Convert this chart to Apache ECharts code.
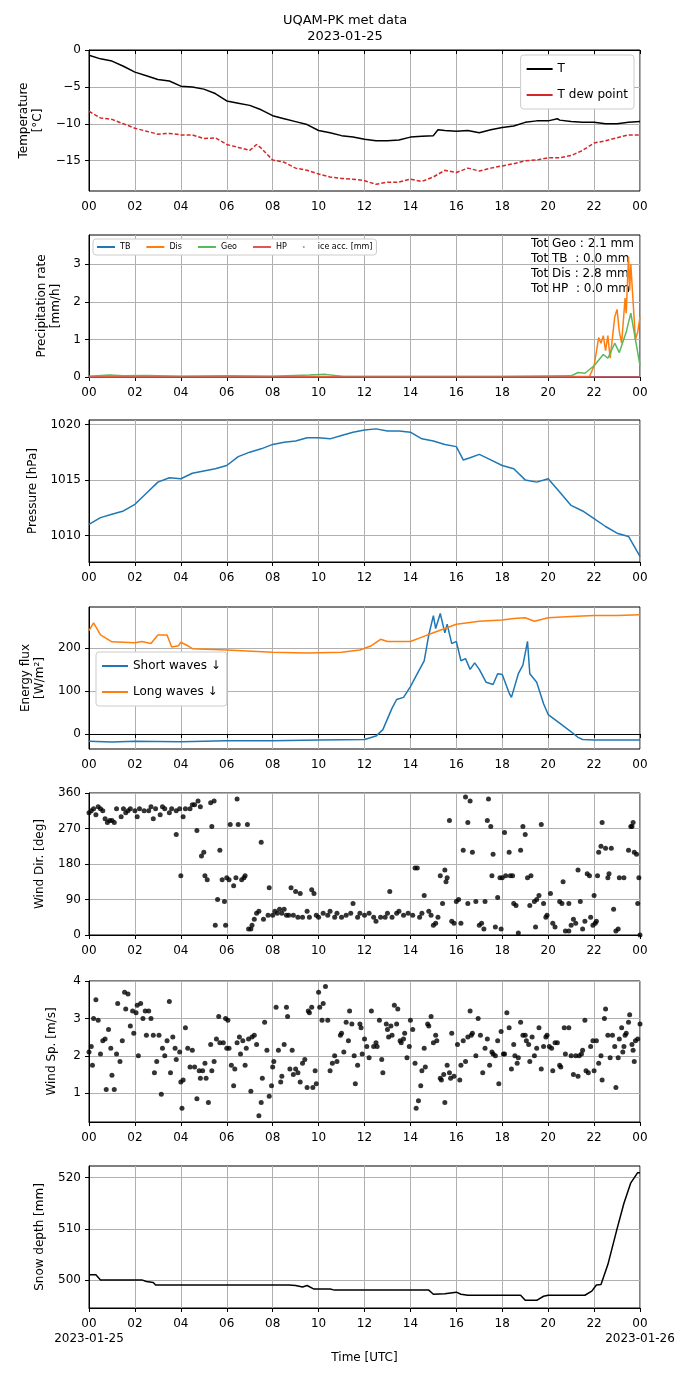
<!DOCTYPE html>
<html>
<head>
<meta charset="utf-8">
<title>UQAM-PK met data</title>
<script src="https://cdn.jsdelivr.net/npm/echarts@6/dist/echarts.min.js"></script>
<style>body{margin:0;background:#fff}</style>
</head>
<body>
<div id="main" style="width:690px;height:1377px;"></div>
<script>
// hours since 2023-01-25 00:00 UTC
var xTicks = [0, 2, 4, 6, 8, 10, 12, 14, 16, 18, 20, 22, 24];

var tAir = [[0,-0.7],[0.5,-1.2],[1,-1.5],[1.5,-2.2],[2,-3.0],[2.5,-3.5],[3,-4.0],[3.5,-4.2],[4,-4.9],[4.5,-5.0],[5,-5.3],[5.5,-5.9],[6,-6.9],[6.5,-7.2],[7,-7.5],[7.5,-8.1],[8,-8.9],[8.5,-9.3],[9,-9.7],[9.5,-10.1],[10,-10.9],[10.5,-11.2],[11,-11.6],[11.5,-11.8],[12,-12.1],[12.5,-12.3],[13,-12.3],[13.5,-12.2],[14,-11.8],[14.5,-11.7],[15,-11.6],[15.2,-10.8],[15.5,-10.9],[16,-11.0],[16.5,-10.9],[17,-11.2],[17.5,-10.8],[18,-10.5],[18.5,-10.3],[19,-9.8],[19.5,-9.6],[20,-9.6],[20.4,-9.3],[20.5,-9.5],[21,-9.7],[21.5,-9.8],[22,-9.8],[22.5,-10.0],[23,-10.0],[23.5,-9.8],[24,-9.7]];
var tDew = [[0,-8.3],[0.5,-9.2],[1,-9.4],[1.5,-10.0],[2,-10.6],[2.5,-11.0],[3,-11.4],[3.5,-11.3],[4,-11.5],[4.5,-11.5],[5,-12.0],[5.5,-11.9],[6,-12.8],[6.5,-13.2],[7,-13.6],[7.3,-12.8],[7.5,-13.3],[8,-14.9],[8.5,-15.2],[9,-16.0],[9.5,-16.3],[10,-16.8],[10.5,-17.2],[11,-17.4],[11.5,-17.5],[12,-17.7],[12.5,-18.2],[13,-17.9],[13.5,-17.9],[14,-17.5],[14.5,-17.8],[15,-17.2],[15.5,-16.3],[16,-16.6],[16.5,-16.0],[17,-16.4],[17.5,-16.0],[18,-15.7],[18.5,-15.4],[19,-15.0],[19.5,-14.9],[20,-14.6],[20.5,-14.6],[21,-14.3],[21.5,-13.6],[22,-12.6],[22.5,-12.3],[23,-11.9],[23.5,-11.5],[24,-11.5]];

var precipTB = [[0,0],[24,0]];
var precipHP = [[0,0],[24,0]];
var precipDis = [[0,0.01],[21.8,0.01],[22.0,0.3],[22.2,1.05],[22.3,0.9],[22.4,1.1],[22.5,0.7],[22.6,1.1],[22.7,0.5],[22.9,1.6],[23.0,1.8],[23.1,1.2],[23.2,0.9],[23.35,2.1],[23.4,1.7],[23.5,3.2],[23.55,2.3],[23.6,3.0],[23.7,2.0],[23.8,1.0],[23.9,1.2],[24,1.6]];
var precipGeo = [[0,0.02],[0.9,0.05],[1.5,0.03],[2.5,0.04],[4,0.02],[6,0.03],[8,0.02],[9.6,0.05],[10.3,0.07],[11,0.02],[14,0.01],[18,0.01],[21,0.03],[21.3,0.12],[21.6,0.1],[22,0.3],[22.4,0.6],[22.6,0.5],[22.9,0.9],[23.1,0.65],[23.4,1.2],[23.6,1.7],[23.8,1.0],[24,0.3]];
var iceAcc = [];
var precipTotals = ['Tot Geo : 2.1 mm', 'Tot TB  : 0.0 mm', 'Tot Dis : 2.8 mm', 'Tot HP  : 0.0 mm'];

var pressure = [[0,1011.0],[0.5,1011.6],[1,1011.9],[1.5,1012.2],[2,1012.8],[2.5,1013.8],[3,1014.8],[3.5,1015.2],[4,1015.1],[4.5,1015.6],[5,1015.8],[5.5,1016.0],[6,1016.3],[6.5,1017.1],[7,1017.5],[7.5,1017.8],[8,1018.2],[8.5,1018.4],[9,1018.5],[9.5,1018.8],[10,1018.8],[10.5,1018.7],[11,1019.0],[11.5,1019.3],[12,1019.5],[12.5,1019.6],[13,1019.4],[13.5,1019.4],[14,1019.3],[14.5,1018.7],[15,1018.5],[15.5,1018.2],[16,1018.0],[16.3,1016.8],[16.6,1017.0],[17,1017.3],[17.5,1016.8],[18,1016.3],[18.5,1016.0],[19,1015.0],[19.5,1014.8],[20,1015.1],[20.5,1013.9],[21,1012.7],[21.5,1012.2],[22,1011.5],[22.5,1010.8],[23,1010.2],[23.5,1009.9],[24,1008.1]];

var shortWave = [[0,-17],[1,-19],[2,-17],[4,-18],[6,-16],[8,-16],[10,-14],[12,-13],[12.5,-5],[12.8,10],[13.2,60],[13.4,80],[13.7,85],[14,110],[14.3,140],[14.6,170],[14.8,230],[15,275],[15.1,245],[15.3,280],[15.5,235],[15.6,255],[15.8,210],[16,215],[16.2,170],[16.4,175],[16.6,150],[16.8,165],[17,150],[17.3,120],[17.6,115],[17.8,140],[18,138],[18.3,95],[18.4,85],[18.7,140],[18.9,160],[19.1,215],[19.2,140],[19.5,120],[19.8,70],[20,45],[20.5,25],[21,5],[21.3,-8],[21.5,-13],[22,-14],[24,-14]];
var longWave = [[0,240],[0.2,258],[0.5,230],[1,214],[2,212],[2.3,215],[2.7,210],[3,230],[3.4,230],[3.6,202],[3.9,205],[4,213],[4.3,205],[4.5,198],[6,195],[8,190],[9.5,188],[11,190],[11.8,195],[12.3,205],[12.7,220],[13,215],[14,215],[14.5,225],[15,235],[15.5,245],[16,255],[17,262],[18,265],[18.5,268],[19,270],[19.4,262],[20,270],[21,273],[22,275],[23,275],[24,277]];

var windDir = [[0,310],[0.1,315],[0.2,320],[0.3,305],[0.4,325],[0.5,320],[0.6,315],[0.7,295],[0.8,285],[0.9,290],[1.0,290],[1.1,285],[1.2,320],[1.4,300],[1.5,320],[1.6,310],[1.7,315],[1.8,320],[2.0,315],[2.1,300],[2.2,320],[2.4,315],[2.6,315],[2.7,325],[2.8,295],[2.9,320],[3.1,305],[3.2,325],[3.3,320],[3.5,310],[3.6,320],[3.8,315],[3.8,255],[3.95,320],[4.0,150],[4.1,300],[4.2,320],[4.4,320],[4.5,330],[4.6,330],[4.7,265],[4.75,340],[4.85,325],[4.9,200],[5.0,210],[5.05,150],[5.15,140],[5.3,335],[5.35,275],[5.45,340],[5.5,25],[5.6,90],[5.7,215],[5.8,140],[5.9,85],[5.95,25],[6.0,145],[6.1,140],[6.15,280],[6.3,125],[6.4,145],[6.45,345],[6.5,280],[6.65,140],[6.75,145],[6.8,150],[6.9,280],[6.95,15],[7.05,15],[7.1,25],[7.2,40],[7.3,55],[7.4,60],[7.5,235],[7.6,40],[7.8,50],[7.85,120],[8.0,50],[8.1,60],[8.2,55],[8.3,65],[8.4,55],[8.5,65],[8.6,50],[8.7,50],[8.8,120],[8.9,50],[9.0,110],[9.1,45],[9.2,105],[9.3,45],[9.5,60],[9.6,45],[9.7,115],[9.8,105],[9.9,50],[10,45],[10.2,55],[10.4,50],[10.5,60],[10.7,45],[10.8,55],[11,45],[11.2,50],[11.4,55],[11.5,80],[11.7,45],[11.8,55],[12,50],[12.2,55],[12.4,45],[12.5,35],[12.7,45],[12.9,45],[13.0,55],[13.1,110],[13.2,45],[13.4,55],[13.5,60],[13.7,50],[13.9,55],[14.1,50],[14.2,170],[14.3,170],[14.4,45],[14.5,55],[14.6,100],[14.8,60],[14.9,50],[15.0,25],[15.1,30],[15.2,45],[15.3,150],[15.4,80],[15.5,165],[15.55,135],[15.6,145],[15.7,290],[15.8,35],[15.9,30],[16.0,85],[16.1,90],[16.2,30],[16.3,215],[16.4,350],[16.5,80],[16.5,285],[16.6,340],[16.7,210],[16.85,85],[17.0,25],[17.1,30],[17.2,15],[17.25,85],[17.35,290],[17.4,345],[17.5,275],[17.55,150],[17.6,205],[17.7,20],[17.8,95],[17.9,145],[17.95,15],[18,145],[18.1,260],[18.15,150],[18.3,210],[18.35,150],[18.45,150],[18.5,80],[18.6,75],[18.7,5],[18.8,215],[18.9,275],[19.0,255],[19.1,145],[19.2,75],[19.25,150],[19.4,85],[19.45,20],[19.5,90],[19.6,100],[19.7,280],[19.8,80],[19.9,45],[19.95,50],[20.1,105],[20.2,30],[20.3,20],[20.5,85],[20.6,80],[20.65,135],[20.75,10],[20.9,10],[20.9,80],[21.0,25],[21.1,40],[21.2,30],[21.3,165],[21.4,85],[21.5,15],[21.6,35],[21.7,155],[21.8,150],[21.85,45],[21.95,25],[22.0,100],[22.05,30],[22.1,35],[22.15,150],[22.2,210],[22.3,225],[22.35,285],[22.5,220],[22.6,145],[22.65,155],[22.75,220],[22.85,65],[22.95,10],[23.05,15],[23.1,145],[23.3,145],[23.5,215],[23.6,275],[23.65,275],[23.7,285],[23.75,210],[23.85,205],[23.9,80],[23.95,145],[24.0,0]];

var windSpd = [[0,2.1],[0.1,2.25],[0.15,1.75],[0.2,3.0],[0.3,3.5],[0.4,2.95],[0.5,2.05],[0.6,2.4],[0.7,2.45],[0.75,1.1],[0.85,2.7],[0.95,2.2],[1.0,1.48],[1.1,1.1],[1.2,2.05],[1.25,3.4],[1.35,1.85],[1.45,2.4],[1.55,3.7],[1.6,3.25],[1.7,3.65],[1.8,2.8],[1.9,3.2],[1.95,2.6],[2.05,3.15],[2.1,3.35],[2.15,2.0],[2.25,3.4],[2.35,3.0],[2.45,3.2],[2.5,2.55],[2.6,3.2],[2.7,3.0],[2.8,2.55],[2.85,1.55],[2.95,1.85],[3.05,2.55],[3.15,0.97],[3.2,2.2],[3.3,2.0],[3.4,2.4],[3.5,3.45],[3.55,1.55],[3.65,2.5],[3.75,2.2],[3.8,1.9],[3.95,2.1],[4.0,1.3],[4.05,0.6],[4.1,1.35],[4.2,2.75],[4.3,2.2],[4.4,1.7],[4.5,2.15],[4.6,1.7],[4.7,0.85],[4.8,1.6],[4.85,1.4],[4.95,1.6],[5.05,1.8],[5.1,1.4],[5.2,0.75],[5.3,2.3],[5.35,1.6],[5.45,1.85],[5.55,2.45],[5.65,3.05],[5.7,2.35],[5.85,2.35],[5.95,3.0],[6.05,2.95],[6.0,2.2],[6.1,2.2],[6.2,1.75],[6.3,1.2],[6.35,1.65],[6.45,2.35],[6.55,2.5],[6.6,2.05],[6.7,2.4],[6.8,1.75],[6.85,2.2],[6.95,2.45],[7.05,1.05],[7.1,2.5],[7.2,2.55],[7.3,2.3],[7.4,0.4],[7.5,0.75],[7.55,1.4],[7.65,2.9],[7.75,2.15],[7.85,0.92],[7.95,1.2],[8.0,1.7],[8.05,1.85],[8.15,3.3],[8.25,2.15],[8.35,1.3],[8.4,1.45],[8.5,2.3],[8.6,3.3],[8.65,3.05],[8.75,1.65],[8.85,2.15],[8.9,1.5],[9.0,1.65],[9.1,1.55],[9.2,1.3],[9.3,1.8],[9.4,1.9],[9.5,1.15],[9.55,3.2],[9.6,3.15],[9.7,3.3],[9.75,1.15],[9.85,1.6],[9.9,1.25],[10.0,3.7],[10.05,3.3],[10.15,2.95],[10.2,3.4],[10.3,3.85],[10.4,2.95],[10.5,1.6],[10.6,1.8],[10.7,2.0],[10.8,1.85],[10.95,2.55],[11.0,2.6],[11.1,2.1],[11.2,2.9],[11.3,2.4],[11.35,3.2],[11.45,2.85],[11.55,2.0],[11.6,1.25],[11.7,1.75],[11.8,2.85],[11.85,2.75],[11.9,2.05],[12.0,2.45],[12.1,2.25],[12.2,1.95],[12.3,3.2],[12.4,2.25],[12.5,2.35],[12.55,2.25],[12.65,2.95],[12.75,1.9],[12.8,1.55],[12.95,2.85],[13.0,2.7],[13.05,2.5],[13.15,2.8],[13.2,2.55],[13.3,3.35],[13.4,2.85],[13.45,3.25],[13.55,2.4],[13.6,2.35],[13.7,2.45],[13.75,2.6],[13.85,1.95],[13.95,2.25],[14.0,2.95],[14.1,2.7],[14.2,1.8],[14.25,0.6],[14.35,0.8],[14.45,1.2],[14.5,1.6],[14.6,2.2],[14.65,1.7],[14.75,2.85],[14.8,2.8],[14.9,3.05],[15.0,2.35],[15.1,2.55],[15.15,2.4],[15.3,1.4],[15.35,1.35],[15.45,1.5],[15.5,0.75],[15.6,1.75],[15.7,1.55],[15.75,1.4],[15.8,2.6],[15.9,1.45],[16.05,2.3],[16.15,1.35],[16.2,1.75],[16.3,2.4],[16.4,1.85],[16.5,2.5],[16.6,3.2],[16.65,2.55],[16.7,2.6],[16.85,2.0],[16.95,3.0],[17.05,2.55],[17.15,1.55],[17.25,2.2],[17.35,2.45],[17.45,1.75],[17.55,2.1],[17.6,2.05],[17.7,2.0],[17.8,2.4],[17.85,1.25],[17.95,2.65],[18.05,2.05],[18.1,2.05],[18.2,3.15],[18.3,2.75],[18.4,1.65],[18.5,2.3],[18.55,2.0],[18.65,1.8],[18.7,1.95],[18.8,2.9],[18.9,2.55],[19.0,2.55],[19.05,2.4],[19.15,2.3],[19.2,1.85],[19.3,2.5],[19.4,2.0],[19.5,2.2],[19.6,2.75],[19.7,1.65],[19.8,2.25],[19.9,2.5],[19.95,2.55],[20.05,2.25],[20.15,2.2],[20.2,1.6],[20.3,2.35],[20.4,2.35],[20.5,1.75],[20.55,1.7],[20.7,2.75],[20.75,2.05],[20.9,2.75],[21.0,2.0],[21.1,1.5],[21.2,2.0],[21.3,1.45],[21.35,2.0],[21.45,2.05],[21.5,2.15],[21.6,2.95],[21.65,1.6],[21.75,1.55],[21.85,2.25],[21.95,2.4],[22.0,1.6],[22.1,2.4],[22.2,1.8],[22.3,2.0],[22.35,1.35],[22.45,3.0],[22.5,3.25],[22.6,2.55],[22.7,1.95],[22.8,2.55],[22.9,2.25],[22.95,1.15],[23.05,1.95],[23.1,2.45],[23.2,2.75],[23.25,2.1],[23.3,2.25],[23.35,2.55],[23.4,2.6],[23.5,2.9],[23.55,3.1],[23.65,2.3],[23.7,2.15],[23.75,1.85],[23.8,2.4],[23.9,2.45],[24.0,2.85]];

var snowDepth = [[0,501],[0.3,501],[0.5,500],[2.3,500],[2.5,499.7],[2.8,499.5],[2.9,499],[8.7,499],[9,498.9],[9.3,498.6],[9.5,498.9],[9.8,498.2],[10.5,498.2],[10.7,498],[14.8,498],[15.0,497.2],[15.5,497.3],[16,497.6],[16.2,497.2],[16.5,497],[18.8,497],[19,496],[19.5,496],[19.8,496.8],[20,497],[21.6,497],[21.9,497.8],[22.1,499],[22.3,499.1],[22.6,503],[23.0,510],[23.3,515],[23.6,519],[23.9,521],[24,521]];

// y tick labels per panel
var yTicks = [
  [-15, -10, -5, 0],
  [0, 1, 2, 3],
  [1010, 1015, 1020],
  [0, 100, 200],
  [0, 90, 180, 270, 360],
  [1, 2, 3, 4],
  [500, 510, 520]
];

var FONT = 'DejaVu Sans';
var tops = [50, 235, 420, 607, 793, 981, 1166];
var heights = [141, 142, 142, 142, 142, 141, 142];
var yCfg = [
  { name: 'Temperature\n[°C]', min: -19.1, max: 0, gap: 34 },
  { name: 'Precipitation rate\n[mm/h]', min: 0, max: 3.78, gap: 24 },
  { name: 'Pressure [hPa]', min: 1007.6, max: 1020.4, gap: 46 },
  { name: 'Energy flux\n[W/m²]', min: -35, max: 295, gap: 40 },
  { name: 'Wind Dir. [deg]', min: 0, max: 360, gap: 38 },
  { name: 'Wind Sp. [m/s]', min: 0.23, max: 4, gap: 30 },
  { name: 'Snow depth [mm]', min: 494.5, max: 522.3, gap: 38 }
];

function hourLabel(v, last) {
  var h = v % 24;
  var s = (h < 10 ? '0' : '') + h;
  if (last) {
    if (v === 0) return s + '\n2023-01-25';
    if (v === 24) return s + '\n2023-01-26';
  }
  return s;
}

var grids = [], xAxes = [], yAxes = [];
for (var i = 0; i < 7; i++) {
  grids.push({ left: 89, right: 50, top: tops[i], height: heights[i], show: true, borderColor: '#000', borderWidth: 1 });
  (function (idx) {
    xAxes.push({
      type: 'value', gridIndex: idx, min: 0, max: 24, interval: 2,
      axisLine: { lineStyle: { color: '#000' } },
      axisTick: { lineStyle: { color: '#000' }, length: 4 },
      axisLabel: { color: '#000', fontFamily: FONT, fontSize: 12, lineHeight: 15,
        formatter: function (v) { return hourLabel(v, idx === 6); } },
      splitLine: { show: true, lineStyle: { color: '#b0b0b0' } },
      name: idx === 6 ? 'Time [UTC]' : '', nameLocation: 'middle', nameGap: 44,
      nameTextStyle: { color: '#000', fontFamily: FONT, fontSize: 12 }
    });
  })(i);
  var c = yCfg[i];
  yAxes.push({
    type: 'value', gridIndex: i, min: c.min, max: c.max,
    axisLine: { show: true, lineStyle: { color: '#000' } },
    axisTick: { show: true, lineStyle: { color: '#000' }, length: 4, customValues: yTicks[i] },
    axisLabel: { color: '#000', fontFamily: FONT, fontSize: 12, customValues: yTicks[i],
      formatter: function (v) { return String(v).replace('-', '−'); } },
    splitLine: { show: true, lineStyle: { color: '#b0b0b0' } },
    name: c.name, nameLocation: 'middle', nameGap: c.gap, nameRotate: 90,
    nameTextStyle: { color: '#000', fontFamily: FONT, fontSize: 12, lineHeight: 14 }
  });
}

function line(name, data, idx, color, extra) {
  var s = { name: name, type: 'line', data: data, xAxisIndex: idx, yAxisIndex: idx,
    showSymbol: false, symbol: 'none', animation: false,
    lineStyle: { color: color, width: 1.5 }, itemStyle: { color: color } };
  if (extra) for (var k in extra) s[k] = extra[k];
  return s;
}
function dots(name, data, idx, color) {
  return { name: name, type: 'scatter', data: data, xAxisIndex: idx, yAxisIndex: idx,
    symbolSize: 5, itemStyle: { color: color }, animation: false };
}

var series = [
  line('T', tAir, 0, '#000'),
  line('T dew point', tDew, 0, '#d62728', { lineStyle: { color: '#d62728', width: 1.5, type: [4, 2] } }),
  line('TB', precipTB, 1, '#1f77b4'),
  line('Dis', precipDis, 1, '#ff7f0e'),
  line('Geo', precipGeo, 1, '#5cb85c'),
  line('HP', precipHP, 1, '#e05555'),
  dots('ice acc. [mm]', iceAcc, 1, '#9467bd'),
  line('Pressure', pressure, 2, '#1f77b4'),
  line('Short waves ↓', shortWave, 3, '#1f77b4'),
  line('Long waves ↓', longWave, 3, '#ff7f0e'),
  dots('Wind Dir', windDir, 4, '#000'),
  dots('Wind Sp', windSpd, 5, '#000'),
  line('Snow', snowDepth, 6, '#000')
];

var lineIcon = 'rect';
var legendBox = { borderColor: '#ccc', borderWidth: 1, borderRadius: 3, backgroundColor: '#fff' };
var chart = echarts.init(document.getElementById('main'));
chart.setOption({
  animation: false,
  title: { text: 'UQAM-PK met data\n2023-01-25', left: 'center', top: 8,
    textStyle: { fontFamily: FONT, fontSize: 13, fontWeight: 'normal', color: '#000', lineHeight: 16 } },
  grid: grids, xAxis: xAxes, yAxis: yAxes, series: series,
  legend: [
    Object.assign({ data: [{ name: 'T', icon: lineIcon }, { name: 'T dew point', icon: lineIcon }],
      orient: 'vertical', right: 56, top: 55, itemWidth: 26, itemHeight: 2, itemGap: 14,
      padding: [8, 6], textStyle: { fontFamily: FONT, fontSize: 12, color: '#000' } }, legendBox),
    Object.assign({ data: [{ name: 'TB', icon: lineIcon }, { name: 'Dis', icon: lineIcon }, { name: 'Geo', icon: lineIcon }, { name: 'HP', icon: lineIcon }, { name: 'ice acc. [mm]', icon: 'circle', itemStyle: { borderWidth: 0 } }],
      orient: 'horizontal', left: 93, top: 239,
      itemWidth: 18, itemHeight: 2, itemGap: 16, padding: [4, 4],
      textStyle: { fontFamily: FONT, fontSize: 8, color: '#000' } }, legendBox),
    Object.assign({ data: [{ name: 'Short waves ↓', icon: lineIcon }, { name: 'Long waves ↓', icon: lineIcon }],
      orient: 'vertical', left: 96, top: 652, itemWidth: 26, itemHeight: 2, itemGap: 14,
      padding: [8, 6], textStyle: { fontFamily: FONT, fontSize: 12, color: '#000' } }, legendBox)
  ],
  graphic: [{
    type: 'text', right: 56, top: 236,
    style: { text: precipTotals.join('\n'), align: 'right', fontFamily: FONT, fontSize: 12, lineHeight: 15, fill: '#000' }
  }]
});
</script>
</body>
</html>
